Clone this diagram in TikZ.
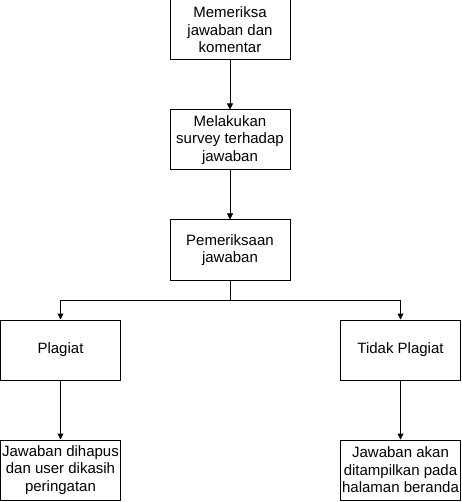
\documentclass[tikz,border=0pt]{standalone}
\usepackage{fontspec}
\setmainfont{Liberation Sans}
\usetikzlibrary{arrows.meta}
\begin{document}
\begin{tikzpicture}[x=1pt,y=-1pt,
  box/.style={draw=black,line width=1pt,fill=white,minimum width=120pt,minimum height=60pt,inner sep=0pt,align=center,font=\fontsize{15pt}{17.5pt}\selectfont},
  arr/.style={draw=black,line width=1pt,-{Triangle[length=6pt,width=6pt]}}]
\useasboundingbox (0,0) rectangle (461,502);
\node[box] (a) at (230,30) {Memeriksa\\jawaban dan\\komentar};
\node[box] (b) at (230,140) {Melakukan\\survey terhadap\\jawaban};
\node[box] (c) at (230,250) {Pemeriksaan\\jawaban};
\node[box] (d) at (60.5,350) {Plagiat};
\node[box] (e) at (400.5,350) {Tidak Plagiat};
\node[box] (f) at (60.5,470) {Jawaban dihapus\\dan user dikasih\\peringatan};
\node[box] (g) at (400.5,470) {Jawaban akan\\ditampilkan pada\\halaman beranda};
\coordinate (s) at (230,300);
\draw[arr] (a) -- (b);
\draw[arr] (b) -- (c);
\draw[arr] (c.south) -- (s) -| (d.north);
\draw[arr] (s) -| (e.north);
\draw[arr] (d) -- (f);
\draw[arr] (e) -- (g);
\end{tikzpicture}
\end{document}
